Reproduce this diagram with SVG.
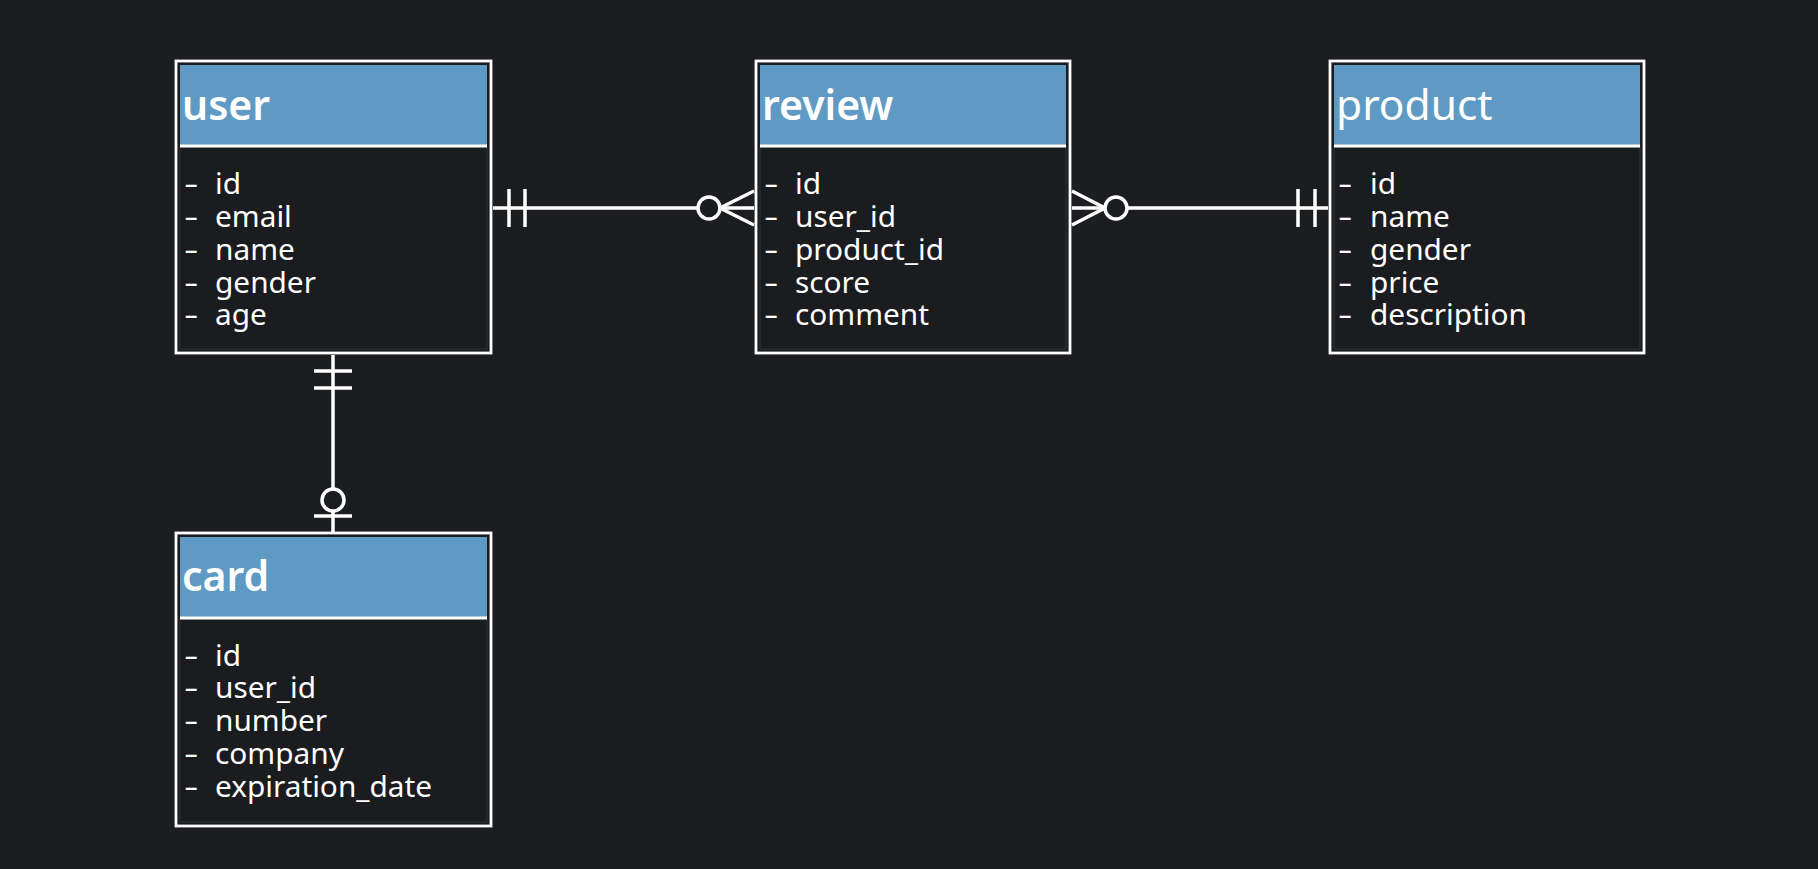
<svg xmlns="http://www.w3.org/2000/svg" width="1818" height="869" viewBox="0 0 1818 869">
<style>
.bg{fill:#1c1d21}
.box{fill:#1b1c20;stroke:#ffffff;stroke-width:2.8}
.hdr{fill:#5e9ac3}
.body{fill:#1b1c20;stroke:#2e3036;stroke-width:1}
.sep{stroke:#ffffff;stroke-width:2.8}
.title{font-family:"Noto Sans","Open Sans",sans-serif;font-size:41px;font-weight:600;fill:#ffffff}
.title.light{font-weight:400;font-size:42.5px}
.attr{font-family:"Noto Sans","Open Sans",sans-serif;font-size:29.8px;fill:#ffffff}
.dash{font-family:"Noto Sans","Open Sans",sans-serif;font-size:29.8px;fill:#ffffff}
.conn line,.conn path{stroke:#ffffff;stroke-width:3.5;fill:none}
.conn circle{stroke:#ffffff;stroke-width:3.5;fill:#1c1d21}
</style>
<rect class="bg" x="0" y="0" width="1818" height="869"/>

<g id="connectors" class="conn">
  <!-- user - review -->
  <line x1="493" y1="208" x2="754" y2="208"/>
  <line x1="509" y1="189" x2="509" y2="227"/>
  <line x1="525" y1="189" x2="525" y2="227"/>
  <path d="M754 191 L720 208 L754 225"/>
  <circle cx="709" cy="208" r="11"/>
  <!-- review - product -->
  <line x1="1072" y1="208" x2="1328" y2="208"/>
  <path d="M1072 191 L1105 208 L1072 225"/>
  <circle cx="1116" cy="208" r="11"/>
  <line x1="1298" y1="189" x2="1298" y2="227"/>
  <line x1="1315" y1="189" x2="1315" y2="227"/>
  <!-- user - card -->
  <line x1="333" y1="355" x2="333" y2="532"/>
  <line x1="314" y1="371" x2="352" y2="371"/>
  <line x1="314" y1="388" x2="352" y2="388"/>
  <circle cx="333" cy="500" r="11"/>
  <line x1="314" y1="516" x2="352" y2="516"/>
</g>

<g id="user">
  <rect class="box" x="176" y="61" width="315" height="292"/>
  <rect class="hdr" x="180" y="65" width="307" height="80"/>
  <rect class="body" x="180" y="147" width="307" height="202"/>
  <line class="sep" x1="180" y1="146" x2="487" y2="146"/>
  <text class="title" x="182" y="120">user</text>
  <text class="dash" transform="translate(184 194) scale(1.5 1)">-</text>
  <text class="attr" x="215" y="194">id</text>
  <text class="dash" transform="translate(184 227) scale(1.5 1)">-</text>
  <text class="attr" x="215" y="227">email</text>
  <text class="dash" transform="translate(184 260) scale(1.5 1)">-</text>
  <text class="attr" x="215" y="260">name</text>
  <text class="dash" transform="translate(184 293) scale(1.5 1)">-</text>
  <text class="attr" x="215" y="293">gender</text>
  <text class="dash" transform="translate(184 325) scale(1.5 1)">-</text>
  <text class="attr" x="215" y="325">age</text>
</g>

<g id="review">
  <rect class="box" x="756" y="61" width="314" height="292"/>
  <rect class="hdr" x="760" y="65" width="306" height="80"/>
  <rect class="body" x="760" y="147" width="306" height="202"/>
  <line class="sep" x1="760" y1="146" x2="1066" y2="146"/>
  <text class="title" x="762" y="120">review</text>
  <text class="dash" transform="translate(764 194) scale(1.5 1)">-</text>
  <text class="attr" x="795" y="194">id</text>
  <text class="dash" transform="translate(764 227) scale(1.5 1)">-</text>
  <text class="attr" x="795" y="227">user_id</text>
  <text class="dash" transform="translate(764 260) scale(1.5 1)">-</text>
  <text class="attr" x="795" y="260">product_id</text>
  <text class="dash" transform="translate(764 293) scale(1.5 1)">-</text>
  <text class="attr" x="795" y="293">score</text>
  <text class="dash" transform="translate(764 325) scale(1.5 1)">-</text>
  <text class="attr" x="795" y="325">comment</text>
</g>

<g id="product">
  <rect class="box" x="1330" y="61" width="314" height="292"/>
  <rect class="hdr" x="1334" y="65" width="306" height="80"/>
  <rect class="body" x="1334" y="147" width="306" height="202"/>
  <line class="sep" x1="1334" y1="146" x2="1640" y2="146"/>
  <text class="title light" x="1336" y="120">product</text>
  <text class="dash" transform="translate(1338 194) scale(1.5 1)">-</text>
  <text class="attr" x="1370" y="194">id</text>
  <text class="dash" transform="translate(1338 227) scale(1.5 1)">-</text>
  <text class="attr" x="1370" y="227">name</text>
  <text class="dash" transform="translate(1338 260) scale(1.5 1)">-</text>
  <text class="attr" x="1370" y="260">gender</text>
  <text class="dash" transform="translate(1338 293) scale(1.5 1)">-</text>
  <text class="attr" x="1370" y="293">price</text>
  <text class="dash" transform="translate(1338 325) scale(1.5 1)">-</text>
  <text class="attr" x="1370" y="325">description</text>
</g>

<g id="card">
  <rect class="box" x="176" y="533" width="315" height="293"/>
  <rect class="hdr" x="180" y="537" width="307" height="80"/>
  <rect class="body" x="180" y="619" width="307" height="203"/>
  <line class="sep" x1="180" y1="618" x2="487" y2="618"/>
  <text class="title" x="182" y="591">card</text>
  <text class="dash" transform="translate(184 666) scale(1.5 1)">-</text>
  <text class="attr" x="215" y="666">id</text>
  <text class="dash" transform="translate(184 698) scale(1.5 1)">-</text>
  <text class="attr" x="215" y="698">user_id</text>
  <text class="dash" transform="translate(184 731) scale(1.5 1)">-</text>
  <text class="attr" x="215" y="731">number</text>
  <text class="dash" transform="translate(184 764) scale(1.5 1)">-</text>
  <text class="attr" x="215" y="764">company</text>
  <text class="dash" transform="translate(184 797) scale(1.5 1)">-</text>
  <text class="attr" x="215" y="797">expiration_date</text>
</g>
</svg>
